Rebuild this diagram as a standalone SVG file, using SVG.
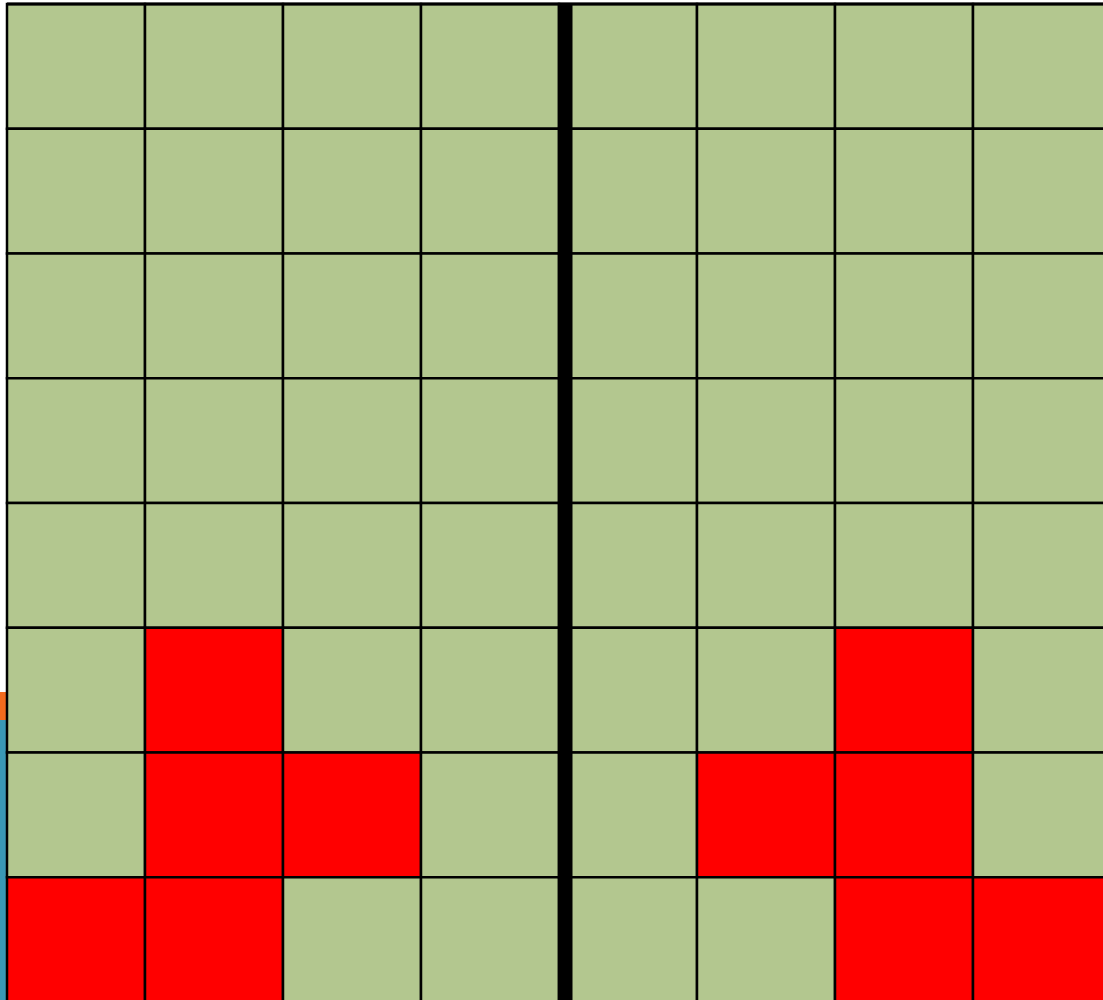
<svg xmlns="http://www.w3.org/2000/svg" width="1103" height="1000" viewBox="0 0 1103 1000">
<style>
.g{fill:#b3c78f;stroke:#000;stroke-width:2.5}
.r{fill:#ff0000;stroke:#000;stroke-width:2.5}
</style>
<rect x="0" y="0" width="1103" height="1000" fill="#fff"/>
<rect x="0" y="692" width="8" height="30" fill="#f26b1d"/>
<rect x="0" y="720" width="8" height="280" fill="#3a98b5"/>
<g id="left">
<rect class="g" x="7" y="4" width="138" height="124.75"/>
<rect class="g" x="145" y="4" width="138" height="124.75"/>
<rect class="g" x="283" y="4" width="138" height="124.75"/>
<rect class="g" x="421" y="4" width="138" height="124.75"/>
<rect class="g" x="7" y="128.75" width="138" height="124.75"/>
<rect class="g" x="145" y="128.75" width="138" height="124.75"/>
<rect class="g" x="283" y="128.75" width="138" height="124.75"/>
<rect class="g" x="421" y="128.75" width="138" height="124.75"/>
<rect class="g" x="7" y="253.5" width="138" height="124.75"/>
<rect class="g" x="145" y="253.5" width="138" height="124.75"/>
<rect class="g" x="283" y="253.5" width="138" height="124.75"/>
<rect class="g" x="421" y="253.5" width="138" height="124.75"/>
<rect class="g" x="7" y="378.25" width="138" height="124.75"/>
<rect class="g" x="145" y="378.25" width="138" height="124.75"/>
<rect class="g" x="283" y="378.25" width="138" height="124.75"/>
<rect class="g" x="421" y="378.25" width="138" height="124.75"/>
<rect class="g" x="7" y="503" width="138" height="124.75"/>
<rect class="g" x="145" y="503" width="138" height="124.75"/>
<rect class="g" x="283" y="503" width="138" height="124.75"/>
<rect class="g" x="421" y="503" width="138" height="124.75"/>
<rect class="g" x="7" y="627.75" width="138" height="124.75"/>
<rect class="r" x="145" y="627.75" width="138" height="124.75"/>
<rect class="g" x="283" y="627.75" width="138" height="124.75"/>
<rect class="g" x="421" y="627.75" width="138" height="124.75"/>
<rect class="g" x="7" y="752.5" width="138" height="124.75"/>
<rect class="r" x="145" y="752.5" width="138" height="124.75"/>
<rect class="r" x="283" y="752.5" width="138" height="124.75"/>
<rect class="g" x="421" y="752.5" width="138" height="124.75"/>
<rect class="r" x="7" y="877.25" width="138" height="124.75"/>
<rect class="r" x="145" y="877.25" width="138" height="124.75"/>
<rect class="g" x="283" y="877.25" width="138" height="124.75"/>
<rect class="g" x="421" y="877.25" width="138" height="124.75"/>
</g>
<g id="right">
<rect class="g" x="559" y="4" width="138" height="124.75"/>
<rect class="g" x="697" y="4" width="138" height="124.75"/>
<rect class="g" x="835" y="4" width="138" height="124.75"/>
<rect class="g" x="973" y="4" width="138" height="124.75"/>
<rect class="g" x="559" y="128.75" width="138" height="124.75"/>
<rect class="g" x="697" y="128.75" width="138" height="124.75"/>
<rect class="g" x="835" y="128.75" width="138" height="124.75"/>
<rect class="g" x="973" y="128.75" width="138" height="124.75"/>
<rect class="g" x="559" y="253.5" width="138" height="124.75"/>
<rect class="g" x="697" y="253.5" width="138" height="124.75"/>
<rect class="g" x="835" y="253.5" width="138" height="124.75"/>
<rect class="g" x="973" y="253.5" width="138" height="124.75"/>
<rect class="g" x="559" y="378.25" width="138" height="124.75"/>
<rect class="g" x="697" y="378.25" width="138" height="124.75"/>
<rect class="g" x="835" y="378.25" width="138" height="124.75"/>
<rect class="g" x="973" y="378.25" width="138" height="124.75"/>
<rect class="g" x="559" y="503" width="138" height="124.75"/>
<rect class="g" x="697" y="503" width="138" height="124.75"/>
<rect class="g" x="835" y="503" width="138" height="124.75"/>
<rect class="g" x="973" y="503" width="138" height="124.75"/>
<rect class="g" x="559" y="627.75" width="138" height="124.75"/>
<rect class="g" x="697" y="627.75" width="138" height="124.75"/>
<rect class="r" x="835" y="627.75" width="138" height="124.75"/>
<rect class="g" x="973" y="627.75" width="138" height="124.75"/>
<rect class="g" x="559" y="752.5" width="138" height="124.75"/>
<rect class="r" x="697" y="752.5" width="138" height="124.75"/>
<rect class="r" x="835" y="752.5" width="138" height="124.75"/>
<rect class="g" x="973" y="752.5" width="138" height="124.75"/>
<rect class="g" x="559" y="877.25" width="138" height="124.75"/>
<rect class="g" x="697" y="877.25" width="138" height="124.75"/>
<rect class="r" x="835" y="877.25" width="138" height="124.75"/>
<rect class="r" x="973" y="877.25" width="138" height="124.75"/>
</g>
<line x1="7" y1="4" x2="1103" y2="4" stroke="#000" stroke-width="3"/>
<rect id="divider" x="559.5" y="4" width="13" height="996" fill="#000"/>
</svg>
